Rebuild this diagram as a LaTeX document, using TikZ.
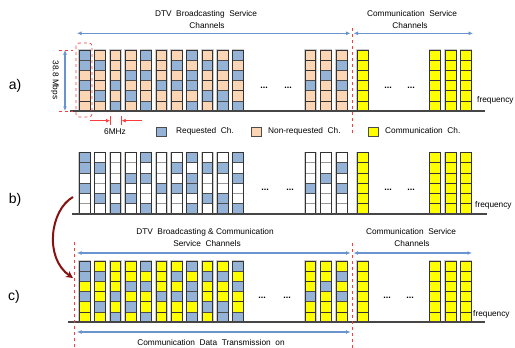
\documentclass[tikz,border=0pt]{standalone}
\usepackage{fontspec}
\setmainfont{Liberation Sans}
\usetikzlibrary{arrows.meta}
\definecolor{reqc}{RGB}{149,179,215}
\definecolor{nonc}{RGB}{252,213,181}
\definecolor{comc}{RGB}{255,255,0}
\definecolor{arrc}{RGB}{105,148,205}
\definecolor{redd}{RGB}{250,60,60}
\definecolor{curv}{RGB}{135,18,18}
\definecolor{basec}{RGB}{70,70,70}
\newcommand{\chcol}[5]{%
  \fill[black!20] ({#1-0.9},{#2-0.9}) rectangle ({#1+11.6},{#2+61.9});
  \foreach \v [count=\k from 0] in #3{%
    \ifnum\v=1\relax\def\cc{reqc}\else\def\cc{#4}\fi
    \fill[\cc] (#1,{#2+\k*10.1667}) rectangle ++(10.7,10.1667);
  }
  \foreach \k in {1,...,5}{\draw[#5] (#1,{#2+\k*10.1667}) -- ++(10.7,0);}
  \foreach \v [count=\k from 0] in #3{%
    \ifnum\v=1\relax\draw[black!70,line width=0.6pt] (#1,{#2+\k*10.1667}) rectangle ++(10.7,10.1667);\fi
  }
  \draw[colb] (#1,#2) rectangle ++(10.7,61);
}
\def\cols{79.3/{1,1,0,1,0,0}, 94.63/{0,1,0,0,1,0}, 109.97/{0,0,0,1,0,1}, 125.3/{0,0,1,0,1,0}, 140.63/{1,0,1,0,0,1}, 155.97/{0,0,0,1,0,0}, 171.3/{0,1,0,1,0,0}, 186.63/{1,0,1,1,0,1}, 201.97/{0,1,0,0,1,0}, 217.3/{0,1,0,0,1,1}, 232.63/{1,0,1,0,0,1}, 305/{0,0,0,1,0,0}, 320.7/{0,0,1,0,0,0}, 336.3/{0,1,0,1,0,0}}
\def\ycols{357.3,429.5,445.2,460.7}
\def\allz{0,0,0,0,0,0}
\begin{document}
\begin{tikzpicture}[x=1pt,y=-1pt,
  colb/.style={black!80,line width=0.7pt},
  txt/.style={font=\fontsize{8.3}{10}\selectfont,inner sep=0pt},
  lbl/.style={font=\fontsize{14}{16}\selectfont,inner sep=0pt},
  dots/.style={font=\fontsize{9}{10}\selectfont\bfseries,inner sep=0pt},
  barr/.style={arrc,line width=1.1pt,{Latex[length=4.5pt,width=4pt]}-{Latex[length=4.5pt,width=4pt]}},
  basel/.style={basec,line width=1.1pt},
  reddash/.style={redd,dashed,line width=0.7pt},
  legbox/.style={draw=black!70,line width=0.6pt,minimum width=10pt,minimum height=9pt,inner sep=0pt}]
\useasboundingbox (0,0) rectangle (515,348);
\fill[white] (0,0) rectangle (515,348);

% ---------- row a ----------
\node[txt] (ta1) at (206,14) {DTV\ \ Broadcasting\ \ Service};
\node[txt] (ta2) at (207,25.5) {Channels};
\node[txt] (tb1) at (412,14) {Communication\ \ Service};
\node[txt] (tb2) at (410,25.5) {Channels};
\coordinate (aL) at (77,33.3); \coordinate (aM) at (350.5,33.3);
\coordinate (aM2) at (353.5,33.3); \coordinate (aR) at (473,33.3);
\draw[barr] (aL) -- (aM);
\draw[barr] (aM2) -- (aR);

\foreach \x/\p in \cols {\chcol{\x}{50}{\p}{nonc}{black!80}}
\foreach \x in \ycols {\chcol{\x}{50}{\allz}{comc}{black!80}}
\draw[basel] (70,111) -- (485,111);
\node[txt,anchor=west] (fa) at (477,100) {frequency};
\foreach \x/\n in {264/da1,288/da2,388/da3,411/da4}{\node[dots] (\n) at (\x,88) {...};}
\node[lbl] (la) at (15,86) {a)};

% bandwidth marker
\coordinate (mt) at (65,50); \coordinate (mb) at (65,111);
\draw[barr] (mt) -- (mb);
\draw[reddash] (59,50) -- (73,50);
\draw[reddash] (59,111) -- (73,111);
\node[txt,rotate=-90] (mbps) at (55,80) {38.8 Mbps};
\draw[reddash,rounded corners=3pt] (76,43) rectangle (92,117);

% 6MHz marker
\coordinate (m1) at (90,120.7); \coordinate (m2) at (110,120.7);
\coordinate (m3) at (142,120.7); \coordinate (m4) at (121.7,120.7);
\draw[redd,line width=0.7pt,-{Latex[length=4pt,width=4pt]}] (m1) -- (m2);
\draw[redd,line width=0.7pt,-{Latex[length=4pt,width=4pt]}] (m3) -- (m4);
\draw[redd,line width=0.7pt] (110,116) -- (110,125);
\draw[redd,line width=0.7pt] (121.7,116) -- (121.7,125);
\node[txt] (mhz) at (115,131.5) {6MHz};

% legend
\node[legbox,fill=reqc] (lg1) at (161.7,131.5) {};
\node[txt,anchor=west] (lt1) at (176,131) {Requested\ \ Ch.};
\node[legbox,fill=nonc] (lg2) at (256.7,131.5) {};
\node[txt,anchor=west] (lt2) at (268,131) {Non-requested\ \ Ch.};
\node[legbox,fill=comc] (lg3) at (373,131.5) {};
\node[txt,anchor=west] (lt3) at (385,131) {Communication\ \ Ch.};
\draw[reddash] (352.3,28) -- (352.3,133);

% ---------- row b ----------
\foreach \x/\p in \cols {\chcol{\x}{152.5}{\p}{white}{black!40}}
\foreach \x in \ycols {\chcol{\x}{152.5}{\allz}{comc}{black!80}}
\draw[basel] (72,214) -- (487,214);
\node[txt,anchor=west] (fb) at (475,205) {frequency};
\foreach \x/\n in {265/db1,290/db2,388/db3,411/db4}{\node[dots] (\n) at (\x,190) {...};}
\node[lbl] (lb) at (15,200) {b)};

% ---------- row c ----------
\node[txt] (tc1) at (205,232) {DTV\ \ Broadcasting\ \&\ Communication};
\node[txt] (tc2) at (207,244) {Service\ \ Channels};
\node[txt] (td1) at (411,232) {Communication\ \ Service};
\node[txt] (td2) at (412,244) {Channels};
\coordinate (cL) at (77,253); \coordinate (cM) at (350.5,253);
\coordinate (cM2) at (353.5,253); \coordinate (cR) at (472,253);
\draw[barr] (cL) -- (cM);
\draw[barr] (cM2) -- (cR);
\foreach \x/\p in \cols {\chcol{\x}{261}{\p}{comc}{black!80}}
\foreach \x in \ycols {\chcol{\x}{261}{\allz}{comc}{black!80}}
\draw[basel] (68,322) -- (485,322);
\node[txt,anchor=west] (fc) at (473,314) {frequency};
\foreach \x/\n in {262/dc1,287/dc2,387/dc3,410/dc4}{\node[dots] (\n) at (\x,298) {...};}
\node[lbl] (lc) at (14,297) {c)};
\coordinate (eL) at (77,332); \coordinate (eR) at (350.5,332);
\draw[barr] (eL) -- (eR);
\node[txt] (te) at (211,342.5) {Communication\ \ Data\ \ Transmission\ \ on};
\draw[reddash] (74.7,242) -- (74.7,348);
\draw[reddash] (352.3,243) -- (352.3,348);

% curved arrow b -> c
\coordinate (cs) at (73,197); \coordinate (ce) at (73,278);
\draw[curv,line width=2pt,-{Stealth[length=7pt,width=7pt]}] (cs) .. controls (50,210) and (44,258) .. (ce);
\end{tikzpicture}
\end{document}
